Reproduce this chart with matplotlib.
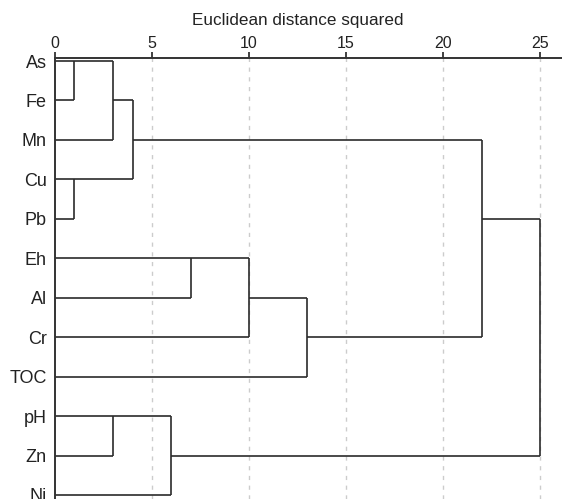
import numpy as np
import matplotlib
matplotlib.use("Agg")
import matplotlib.pyplot as plt
import matplotlib.transforms as mtransforms

plt.rcParams['font.family'] = ['Liberation Sans', 'DejaVu Sans']

labels = ['As', 'Fe', 'Mn', 'Cu', 'Pb', 'Eh', 'Al', 'Cr', 'TOC', 'pH', 'Zn', 'Ni']
# merge steps: child a, child b (0-11 leaves, 12+ earlier clusters), distance
merge_a = [0, 12, 3, 13, 5, 16, 17, 15, 9, 20, 19]
merge_b = [1, 2, 4, 14, 6, 7, 8, 18, 10, 11, 21]
merge_dist = [1, 3, 1, 4, 7, 10, 13, 22, 3, 6, 25]
xticks = [0, 5, 10, 15, 20, 25]

fig = plt.figure(figsize=(5.62, 4.99), dpi=100)
ax = fig.add_axes([55/562, 0, 1 - 55/562, (499-58)/499])

lc = '#2b2b2b'
ypos = {i: i for i in range(len(labels))}
xpos = {i: 0 for i in range(len(labels))}
n = len(labels)
for k, (a, b, d) in enumerate(zip(merge_a, merge_b, merge_dist)):
    ya, yb = ypos[a], ypos[b]
    ax.plot([xpos[a], d], [ya, ya], color=lc, lw=1.2, solid_capstyle='butt')
    ax.plot([xpos[b], d], [yb, yb], color=lc, lw=1.2, solid_capstyle='butt')
    ax.plot([d, d], [ya, yb], color=lc, lw=1.2, solid_capstyle='butt')
    # SPSS style: node sits on the upper of the two middle rows
    ypos[n + k] = int(np.floor((ya + yb) / 2))
    xpos[n + k] = d

for x in xticks[1:]:
    ax.axvline(x, color='#cccccc', lw=1.0, linestyle=(0, (3, 4)), zorder=0)

ax.set_xlim(0, (562-55)/19.4)
ax.set_ylim(11 + 4/39.45, -3/39.45)

ax.xaxis.tick_top()
ax.set_xticks(xticks)
ax.set_xticklabels([str(t) for t in xticks], fontsize=11.5, color='#222222')
ax.tick_params(axis='x', length=4, width=1.3, color='#333333', pad=1)
ax.set_yticks(range(n))
ax.set_yticklabels(labels, fontsize=13, color='#222222')
ax.tick_params(axis='y', length=0, pad=6)

for s in ['right', 'bottom']:
    ax.spines[s].set_visible(False)
for s in ['top', 'left']:
    ax.spines[s].set_color('#333333')
    ax.spines[s].set_linewidth(1.4)

trans = mtransforms.blended_transform_factory(ax.transData, ax.transAxes)
ax.text(12.5, 1 + 38/441, 'Euclidean distance squared', transform=trans,
        ha='center', va='center', fontsize=12.3, color='#222222')

fig.savefig('out.png', dpi=100)
